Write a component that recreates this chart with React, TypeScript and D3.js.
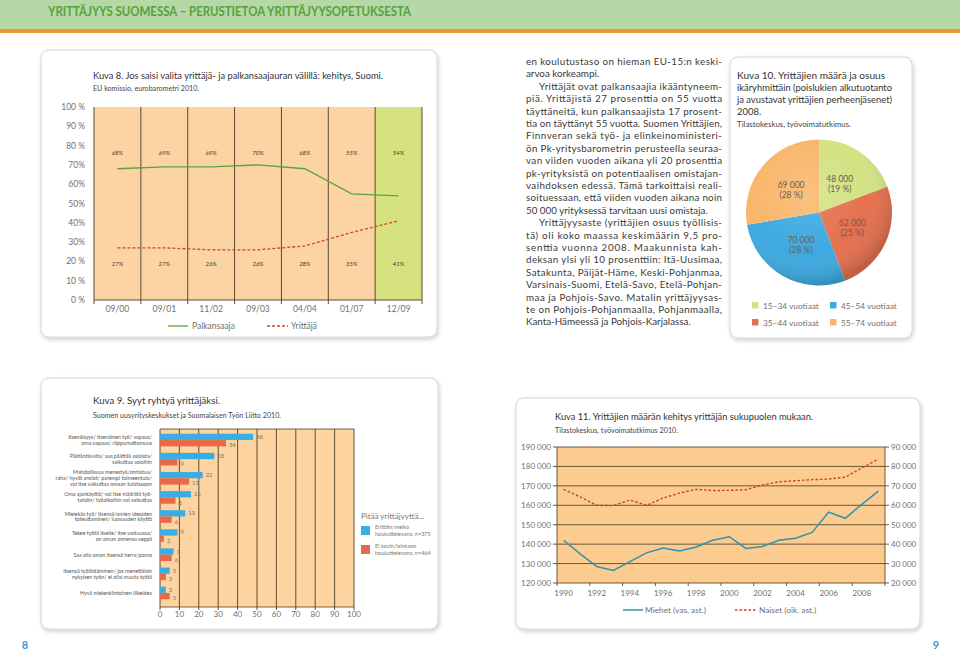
import React from "react";
import * as d3 from "d3";

// ---------- Header ----------
const headerTitle = "YRITTÄJYYS SUOMESSA – PERUSTIETOA YRITTÄJYYSOPETUKSESTA";
const pageNumbers = ["8", "9"];

// ---------- Kuva 8 ----------
const k8Title = "Kuva 8. Jos saisi valita yrittäjä- ja palkansaajauran välillä: kehitys, Suomi.";
const k8Source = "EU komissio, eurobarometri 2010.";
const k8Periods = ["09/00", "09/01", "11/02", "09/03", "04/04", "01/07", "12/09"];
const k8Palkansaaja = [68, 69, 69, 70, 68, 55, 54];
const k8Yrittaja = [27, 27, 26, 26, 28, 35, 41];
const k8YTicks = [0, 10, 20, 30, 40, 50, 60, 70, 80, 90, 100];
const k8YTickLabels = ["0 %", "10 %", "20 %", "30%", "40%", "50%", "60%", "70%", "80 %", "90 %", "100 %"];
const k8SeriesNames = ["Palkansaaja", "Yrittäjä"];

// ---------- Body text ----------
const bodyPara1 = ["en koulutustaso on hieman EU-15:n keski-", "arvoa korkeampi."];
const bodyPara2 = [
  "Yrittäjät ovat palkansaajia ikääntyneem-",
  "piä. Yrittäjistä 27 prosenttia on 55 vuotta",
  "täyttäneitä, kun palkansaajista 17 prosent-",
  "tia on täyttänyt 55 vuotta. Suomen Yrittäjien,",
  "Finnveran sekä työ- ja elinkeinoministeri-",
  "ön Pk-yritysbarometrin perusteella seuraa-",
  "van viiden vuoden aikana yli 20 prosenttia",
  "pk-yrityksistä on potentiaalisen omistajan-",
  "vaihdoksen edessä. Tämä tarkoittaisi reali-",
  "soituessaan, että viiden vuoden aikana noin",
  "50 000 yrityksessä tarvitaan uusi omistaja.",
];
const bodyPara3 = [
  "Yrittäjyysaste (yrittäjien osuus työllisis-",
  "tä) oli koko maassa keskimäärin 9,5 pro-",
  "senttia vuonna 2008. Maakunnista kah-",
  "deksan ylsi yli 10 prosenttiin: Itä-Uusimaa,",
  "Satakunta, Päijät-Häme, Keski-Pohjanmaa,",
  "Varsinais-Suomi, Etelä-Savo, Etelä-Pohjan-",
  "maa ja Pohjois-Savo. Matalin yrittäjyysas-",
  "te on Pohjois-Pohjanmaalla, Pohjanmaalla,",
  "Kanta-Hämeessä ja Pohjois-Karjalassa.",
];

// ---------- Kuva 10 ----------
const k10TitleLines = [
  "Kuva 10. Yrittäjien määrä ja osuus",
  "ikäryhmittäin (poislukien alkutuotanto",
  "ja avustavat yrittäjien perheenjäsenet)",
  "2008.",
];
const k10Source = "Tilastokeskus, työvoimatutkimus.";
const ageGroups = ["15–34 vuotiaat", "35–44 vuotiaat", "45–54 vuotiaat", "55–74 vuotiaat"];
const ageCounts = [48000, 62000, 70000, 69000];
const agePercents = [19, 25, 28, 28];

// ---------- Kuva 9 ----------
const k9Title = "Kuva 9. Syyt ryhtyä yrittäjäksi.";
const k9Source = "Suomen uusyrityskeskukset ja Suomalaisen Työn Liitto 2010.";
const k9Reasons = [
  ["Itsenäisyys/ itsenäinen työ/ vapaus/", "oma vapaus/ riippumattomuus"],
  ["Päätäntävalta/ saa päättää asioista/", "vaikuttaa asioihin"],
  ["Mahdollisuus menestyä/onnistua/", "raha/ hyvät ansiot/ parempi toimeentulo/", "voi itse vaikuttaa omaan tulotasoon"],
  ["Oma ajankäyttö/ voi itse määrätä työ-", "tahdin/ työaikoihin voi vaikuttaa"],
  ["Mielekäs työ/ itsensä/omien ideoiden", "toteuttaminen/ luovuuden käyttö"],
  ["Tekee työtä itselle/ itse vastuussa/", "on oman onnensa seppä"],
  ["Saa olla oman itsensä herra/pomo"],
  ["Itsensä työllistäminen/ jos menettäisin", "nykyisen työn/ ei olisi muuta työtä"],
  ["Hyvä mielenkiintoinen liikeidea"],
];
const k9Attractive = [48, 28, 22, 16, 13, 9, 7, 5, 3];
const k9NotAttractive = [34, 9, 15, 8, 6, 2, 6, 3, 5];
const k9XTicks = [0, 10, 20, 30, 40, 50, 60, 70, 80, 90, 100];
const k9LegendTitle = "Pitää yrittäjyyttä...";
const k9LegendA = ["Erittäin/melko", "houkuttelevana, n=375"];
const k9LegendB = ["Ei kovin/lainkaan", "houkuttelevana, n=464"];

// ---------- Kuva 11 ----------
const k11Title = "Kuva 11. Yrittäjien määrän kehitys yrittäjän sukupuolen mukaan.";
const k11Source = "Tilastokeskus, työvoimatutkimus 2010.";
const k11Years = [1990, 1991, 1992, 1993, 1994, 1995, 1996, 1997, 1998, 1999, 2000, 2001, 2002, 2003, 2004, 2005, 2006, 2007, 2008, 2009];
const k11Men = [142000, 135000, 128500, 126500, 131000, 135500, 138000, 136500, 138500, 142000, 143800, 137800, 138800, 142000, 143000, 146000, 156500, 153300, 160500, 167300];
const k11Women = [68200, 64300, 60000, 59800, 62700, 60000, 63700, 66300, 68200, 67600, 67700, 68000, 70400, 72100, 72600, 73200, 73500, 74500, 79200, 83800];
const k11LeftTicks = [120000, 130000, 140000, 150000, 160000, 170000, 180000, 190000];
const k11RightTicks = [20000, 30000, 40000, 50000, 60000, 70000, 80000, 90000];
const k11XLabels = [1990, 1992, 1994, 1996, 1998, 2000, 2002, 2004, 2006, 2008];
const k11SeriesNames = ["Miehet (vas. ast.)", "Naiset (oik. ast.)"];

const FONT = "Lato, 'Open Sans', 'DejaVu Sans', sans-serif";
const fmtThousands = (v: number) => d3.format(",")(v).replace(/,/g, " ");

function Card({ x, y, w, h }: { x: number; y: number; w: number; h: number }) {
  return <rect x={x} y={y} width={w} height={h} rx={8} fill="#fff" stroke="#d6d6d6" strokeWidth={1} filter="url(#shadow)" />;
}

function Kuva8() {
  const x = d3.scaleBand<string>().domain(k8Periods).range([94, 422]);
  const y = d3.scaleLinear().domain([0, 100]).range([300, 107]);
  const bw = x.bandwidth();
  const cx = (i: number) => (x(k8Periods[i]) as number) + bw / 2;
  const line = d3.line<number>().x((_, i) => cx(i)).y((d) => y(d));
  const bounds = [...k8Periods.map((p) => x(p) as number), 422];
  const lineColor = "#5a4a2e";
  return (
    <g>
      <Card x={41} y={50} w={396} h={287} />
      <text x={93} y={79} fontSize={9.5} fill="#333" textLength={290} lengthAdjust="spacingAndGlyphs">{k8Title}</text>
      <text x={93} y={91} fontSize={7} fill="#444" textLength={106} lengthAdjust="spacingAndGlyphs">{k8Source}</text>
      {k8Periods.map((p, i) => (
        <rect key={p} x={x(p)} y={y(100)} width={bw} height={y(0) - y(100)} fill={i === k8Periods.length - 1 ? "#d5e27f" : "#fcd3a2"} />
      ))}
      {bounds.map((b, i) => (
        <line key={i} x1={b} x2={b} y1={y(100)} y2={y(0) + 4} stroke={lineColor} strokeWidth={1} />
      ))}
      <line x1={94} x2={422} y1={y(0)} y2={y(0)} stroke={lineColor} strokeWidth={1} />
      {k8YTicks.map((t, i) => (
        <text key={t} x={85} y={y(t) + 3} fontSize={8.5} fill="#707070" textAnchor="end">{k8YTickLabels[i]}</text>
      ))}
      {k8Periods.map((p, i) => (
        <text key={p} x={cx(i)} y={312} fontSize={8.5} fill="#707070" textAnchor="middle">{p}</text>
      ))}
      {k8Palkansaaja.map((v, i) => (
        <text key={"a" + i} x={cx(i)} y={155} fontSize={6} fontStyle="italic" fill="#4a3520" textAnchor="middle">{v}%</text>
      ))}
      {k8Yrittaja.map((v, i) => (
        <text key={"b" + i} x={cx(i)} y={266} fontSize={6} fontStyle="italic" fill="#4a3520" textAnchor="middle">{v}%</text>
      ))}
      <path d={line(k8Palkansaaja) || ""} fill="none" stroke="#5aa53a" strokeWidth={1.3} />
      <path d={line(k8Yrittaja) || ""} fill="none" stroke="#d6402a" strokeWidth={1.3} strokeDasharray="3,2" />
      <line x1={168} x2={188} y1={326} y2={326} stroke="#5aa53a" strokeWidth={1.3} />
      <text x={192} y={329} fontSize={8.5} fill="#707070">{k8SeriesNames[0]}</text>
      <line x1={267} x2={288} y1={326} y2={326} stroke="#d6402a" strokeWidth={1.3} strokeDasharray="3,2" />
      <text x={291} y={329} fontSize={8.5} fill="#707070">{k8SeriesNames[1]}</text>
    </g>
  );
}

function BodyText() {
  const x0 = 526;
  const x1 = 722;
  const indent = 13;
  const y0 = 65;
  const lh = 12.4;
  const paras = [bodyPara1, bodyPara2, bodyPara3];
  const out: React.ReactNode[] = [];
  let idx = 0;
  paras.forEach((para, pi) => {
    para.forEach((ln, li) => {
      const isFirst = li === 0 && pi > 0;
      const isLast = li === para.length - 1;
      const x = isFirst ? x0 + indent : x0;
      out.push(
        <text key={idx} x={x} y={y0 + idx * lh} fontSize={9.8} fill="#3a3a3a" {...(isLast ? {} : { textLength: x1 - x, lengthAdjust: "spacing" })}>
          {ln}
        </text>
      );
      idx++;
    });
  });
  return <g>{out}</g>;
}

function Kuva10() {
  const colors = ["#d3e283", "#e5704f", "#3da9e0", "#f8b66a"];
  const cx = 819;
  const cy = 212.5;
  const r = 73;
  const pie = d3.pie<number>().sort(null).value((d) => d);
  const arcs = pie(ageCounts);
  const arc = d3.arc<d3.PieArcDatum<number>>().innerRadius(0).outerRadius(r);
  const labelArc = d3.arc<d3.PieArcDatum<number>>().innerRadius(0).outerRadius(r * 1.0);
  const legendPos = [
    [752, 302],
    [752, 319],
    [830, 302],
    [830, 319],
  ];
  return (
    <g>
      <Card x={730} y={57} w={182} h={281} />
      {k10TitleLines.map((t, i) => (
        <text key={i} x={737} y={79 + i * 12} fontSize={9.5} fill="#333" {...(i < 3 ? { textLength: i === 0 ? 148 : 155, lengthAdjust: "spacingAndGlyphs" } : {})}>{t}</text>
      ))}
      <text x={737} y={127} fontSize={7} fill="#444" textLength={114} lengthAdjust="spacingAndGlyphs">{k10Source}</text>
      <g transform={`translate(${cx},${cy})`}>
        {arcs.map((a, i) => (
          <path key={i} d={arc(a) || ""} fill={colors[i]} />
        ))}
        <circle r={r} fill="url(#pieShade)" />
        {arcs.map((a, i) => {
          const [lx, ly] = labelArc.centroid(a);
          return (
            <g key={"l" + i} fill="#6a5f52" fontSize={8.5} textAnchor="middle">
              <text x={lx} y={ly - 1}>{fmtThousands(ageCounts[i])}</text>
              <text x={lx} y={ly + 9}>({agePercents[i]} %)</text>
            </g>
          );
        })}
      </g>
      {ageGroups.map((g, i) => (
        <g key={g}>
          <rect x={legendPos[i][0]} y={legendPos[i][1]} width={6.5} height={6.5} fill={colors[i]} />
          <text x={legendPos[i][0] + 11} y={legendPos[i][1] + 6.5} fontSize={8.3} fill="#707070">{g}</text>
        </g>
      ))}
    </g>
  );
}

function Kuva9() {
  const x = d3.scaleLinear().domain([0, 100]).range([160, 354]);
  const y = d3.scaleBand<number>().domain(d3.range(k9Reasons.length)).range([430.5, 602.5]);
  const top = 429;
  const bottom = 607;
  const bh = 6.3;
  const blue = "#3aaee3";
  const red = "#e8684a";
  const grid = "#4f3f25";
  return (
    <g>
      <Card x={41} y={378} w={397} h={251} />
      <text x={93} y={404} fontSize={10} fill="#333" textLength={127} lengthAdjust="spacingAndGlyphs">{k9Title}</text>
      <text x={93} y={418} fontSize={7.2} fill="#444" textLength={188} lengthAdjust="spacingAndGlyphs">{k9Source}</text>
      <rect x={x(0)} y={top} width={x(100) - x(0)} height={bottom - top} fill="#fdd3a0" />
      <line x1={x(0)} x2={x(100)} y1={top} y2={top} stroke={grid} strokeWidth={0.8} />
      <line x1={x(0)} x2={x(100)} y1={bottom} y2={bottom} stroke={grid} strokeWidth={0.8} />
      {k9XTicks.map((t) => (
        <g key={t}>
          <line x1={x(t)} x2={x(t)} y1={top} y2={bottom + 3} stroke={grid} strokeWidth={0.9} />
          <text x={x(t)} y={617} fontSize={8} fill="#707070" textAnchor="middle">{t}</text>
        </g>
      ))}
      {k9Reasons.map((lines, i) => {
        const c = (y(i) as number) + y.bandwidth() / 2;
        const lh = 5.9;
        const start = c - ((lines.length - 1) * lh) / 2 + 2;
        return (
          <g key={i}>
            <rect x={x(0)} y={c - bh} width={x(k9Attractive[i]) - x(0)} height={bh} fill={blue} />
            <rect x={x(0)} y={c} width={x(k9NotAttractive[i]) - x(0)} height={bh} fill={red} />
            <text x={x(k9Attractive[i]) + 3} y={c - bh / 2 + 2} fontSize={5.8} fill="#777">{k9Attractive[i]}</text>
            <text x={x(k9NotAttractive[i]) + 3} y={c + bh / 2 + 4} fontSize={5.8} fill="#777">{k9NotAttractive[i]}</text>
            {lines.map((l, j) => (
              <text key={j} x={152} y={start + j * lh} fontSize={5.3} fill="#555" textAnchor="end">{l}</text>
            ))}
          </g>
        );
      })}
      <text x={361} y={519} fontSize={8} fill="#777">{k9LegendTitle}</text>
      <rect x={361} y={526} width={9} height={9} fill={blue} />
      <text x={375} y={529} fontSize={5.5} fill="#777">{k9LegendA[0]}</text>
      <text x={375} y={536} fontSize={5.5} fill="#777">{k9LegendA[1]}</text>
      <rect x={361} y={545} width={9} height={9} fill={red} />
      <text x={375} y={548} fontSize={5.5} fill="#777">{k9LegendB[0]}</text>
      <text x={375} y={555} fontSize={5.5} fill="#777">{k9LegendB[1]}</text>
    </g>
  );
}

function Kuva11() {
  const x = d3.scaleLinear().domain([1989.6, 2009.4]).range([557, 885]);
  const yL = d3.scaleLinear().domain([120000, 190000]).range([583, 447]);
  const yR = d3.scaleLinear().domain([20000, 90000]).range([583, 447]);
  const grid = "#5a4a2e";
  const men = d3.line<number>().x((_, i) => x(k11Years[i])).y((d) => yL(d));
  const women = d3.line<number>().x((_, i) => x(k11Years[i])).y((d) => yR(d));
  const bottomTicks = d3.range(11).map((k) => 557 + (k * (885 - 557)) / 10);
  return (
    <g>
      <Card x={516} y={398} w={404} h={231} />
      <text x={555} y={420} fontSize={10} fill="#333" textLength={258} lengthAdjust="spacingAndGlyphs">{k11Title}</text>
      <text x={555} y={433} fontSize={7} fill="#444" textLength={123} lengthAdjust="spacingAndGlyphs">{k11Source}</text>
      <rect x={557} y={447} width={885 - 557} height={583 - 447} fill="#fbcb90" />
      {k11LeftTicks.map((t, i) => (
        <g key={t}>
          <line x1={553} x2={889} y1={yL(t)} y2={yL(t)} stroke={grid} strokeWidth={0.9} />
          <text x={551} y={yL(t) + 3} fontSize={8} fill="#707070" textAnchor="end">{fmtThousands(t)}</text>
          <text x={891} y={yR(k11RightTicks[i]) + 3} fontSize={8} fill="#707070">{fmtThousands(k11RightTicks[i])}</text>
        </g>
      ))}
      <line x1={557} x2={557} y1={447} y2={583} stroke={grid} strokeWidth={0.9} />
      <line x1={885} x2={885} y1={447} y2={583} stroke={grid} strokeWidth={0.9} />
      {bottomTicks.map((bx, i) => (
        <line key={i} x1={bx} x2={bx} y1={583} y2={586} stroke={grid} strokeWidth={0.9} />
      ))}
      {k11XLabels.map((yr) => (
        <text key={yr} x={x(yr)} y={596} fontSize={8} fill="#707070" textAnchor="middle">{yr}</text>
      ))}
      <path d={women(k11Women) || ""} fill="none" stroke="#c8412e" strokeWidth={1.4} strokeDasharray="2.5,2" />
      <path d={men(k11Men) || ""} fill="none" stroke="#2f93ad" strokeWidth={1.5} />
      <line x1={623} x2={643} y1={610} y2={610} stroke="#2f93ad" strokeWidth={1.5} />
      <text x={645} y={613} fontSize={8.3} fill="#707070">{k11SeriesNames[0]}</text>
      <line x1={735} x2={757} y1={610} y2={610} stroke="#c8412e" strokeWidth={1.4} strokeDasharray="2.5,2" />
      <text x={759} y={613} fontSize={8.3} fill="#707070">{k11SeriesNames[1]}</text>
    </g>
  );
}

export default function App() {
  return (
    <svg width={960} height={651} viewBox="0 0 960 651" style={{ position: "absolute", left: 0, top: 0, display: "block" }} fontFamily={FONT}>
      <defs>
        <filter id="shadow" x="-5%" y="-5%" width="112%" height="115%">
          <feDropShadow dx="1" dy="2" stdDeviation="2" floodColor="#000" floodOpacity="0.2" />
        </filter>
        <radialGradient id="pieShade" cx="0.42" cy="0.38" r="0.62">
          <stop offset="0" stopColor="#fff" stopOpacity="0.15" />
          <stop offset="0.65" stopColor="#fff" stopOpacity="0" />
          <stop offset="1" stopColor="#000" stopOpacity="0.16" />
        </radialGradient>
      </defs>
      <rect x={0} y={0} width={960} height={651} fill="#fff" />
      <rect x={0} y={0} width={960} height={29} fill="#b6d8a6" />
      <rect x={0} y={29} width={960} height={4} fill="#f1962d" />
      <text x={48} y={16} fontSize={14} fontWeight="bold" fill="#55a23c" textLength={363} lengthAdjust="spacingAndGlyphs">{headerTitle}</text>
      <Kuva8 />
      <BodyText />
      <Kuva10 />
      <Kuva9 />
      <Kuva11 />
      <text x={25} y={649} fontSize={11} fontWeight="bold" fill="#3b9ad6" textAnchor="middle">{pageNumbers[0]}</text>
      <text x={936} y={649} fontSize={11} fontWeight="bold" fill="#3b9ad6" textAnchor="middle">{pageNumbers[1]}</text>
    </svg>
  );
}
